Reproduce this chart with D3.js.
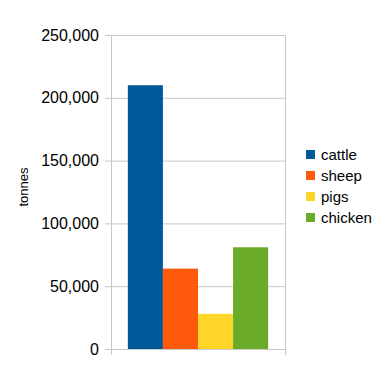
<!DOCTYPE html>
<html>
<head>
<meta charset="utf-8">
<script src="https://cdn.jsdelivr.net/npm/d3@7"></script>
<style>
  body { margin: 0; background: #fff; }
  text { font-family: "Liberation Sans", Arial, sans-serif; fill: #000; }
</style>
</head>
<body>
<div id="chart"></div>
<script>
// Data
const categories = [""];
const seriesNames = ["cattle", "sheep", "pigs", "chicken"];
const seriesValues = [210000, 64000, 28000, 81000];
const seriesColors = ["#005a9a", "#ff5a0c", "#ffd52a", "#6aab2a"];
const yTicks = [0, 50000, 100000, 150000, 200000, 250000];

const dimensions = {
  width: 388,
  height: 371,
  margin: { top: 35, right: 103, bottom: 22, left: 111 }
};
dimensions.containerWidth = dimensions.width - dimensions.margin.left - dimensions.margin.right;
dimensions.containerHeight = dimensions.height - dimensions.margin.top - dimensions.margin.bottom;

const svg = d3.select("#chart")
  .append("svg")
  .attr("width", dimensions.width)
  .attr("height", dimensions.height);

const container = svg.append("g")
  .attr("transform", `translate(${dimensions.margin.left}, ${dimensions.margin.top})`);

// Scales
const xScale = d3.scaleBand()
  .domain(categories)
  .range([0, dimensions.containerWidth])
  .paddingInner(0)
  .paddingOuter(0.12);

const subScale = d3.scaleBand()
  .domain(seriesNames)
  .range([0, xScale.bandwidth()])
  .padding(0);

const yScale = d3.scaleLinear()
  .domain([0, 250000])
  .range([dimensions.containerHeight, 0]);

// Gridlines
container.append("g")
  .selectAll("line")
  .data(yTicks)
  .join("line")
  .attr("x1", -6)
  .attr("x2", dimensions.containerWidth)
  .attr("y1", (d) => yScale(d) + 0.5)
  .attr("y2", (d) => yScale(d) + 0.5)
  .attr("stroke", "#c8c8c8")
  .attr("stroke-width", 1);

// Vertical borders (left axis and right edge), with x ticks below
container.append("g")
  .selectAll("line")
  .data([0, dimensions.containerWidth])
  .join("line")
  .attr("x1", (d) => d + 0.5)
  .attr("x2", (d) => d + 0.5)
  .attr("y1", 0)
  .attr("y2", dimensions.containerHeight + 6)
  .attr("stroke", "#c8c8c8")
  .attr("stroke-width", 1);

// Bars
container.append("g")
  .selectAll("rect")
  .data(seriesNames.map((name, i) => ({ name, value: seriesValues[i], color: seriesColors[i] })))
  .join("rect")
  .attr("x", (d) => xScale("") + subScale(d.name))
  .attr("y", (d) => yScale(d.value))
  .attr("width", subScale.bandwidth())
  .attr("height", (d) => yScale(0) - yScale(d.value))
  .attr("fill", (d) => d.color);

// Y axis labels
const fmt = d3.format(",");
container.append("g")
  .selectAll("text")
  .data(yTicks)
  .join("text")
  .attr("x", -12)
  .attr("y", (d) => yScale(d))
  .attr("dy", "0.35em")
  .attr("text-anchor", "end")
  .style("font-size", "16px")
  .text((d) => fmt(d));

// Y axis title
svg.append("text")
  .attr("transform", `translate(${28}, ${187}) rotate(-90)`)
  .attr("text-anchor", "middle")
  .style("font-size", "13px")
  .text("tonnes");

// Legend
const legend = svg.append("g")
  .attr("transform", "translate(306, 155)");

const rows = legend.selectAll("g")
  .data(seriesNames)
  .join("g")
  .attr("transform", (d, i) => `translate(0, ${i * 21})`);

rows.append("rect")
  .attr("x", 0)
  .attr("y", -5)
  .attr("width", 9)
  .attr("height", 9)
  .attr("fill", (d, i) => seriesColors[i]);

rows.append("text")
  .attr("x", 15)
  .attr("y", 0)
  .attr("dy", "0.35em")
  .style("font-size", "15px")
  .text((d) => d);
</script>
</body>
</html>
